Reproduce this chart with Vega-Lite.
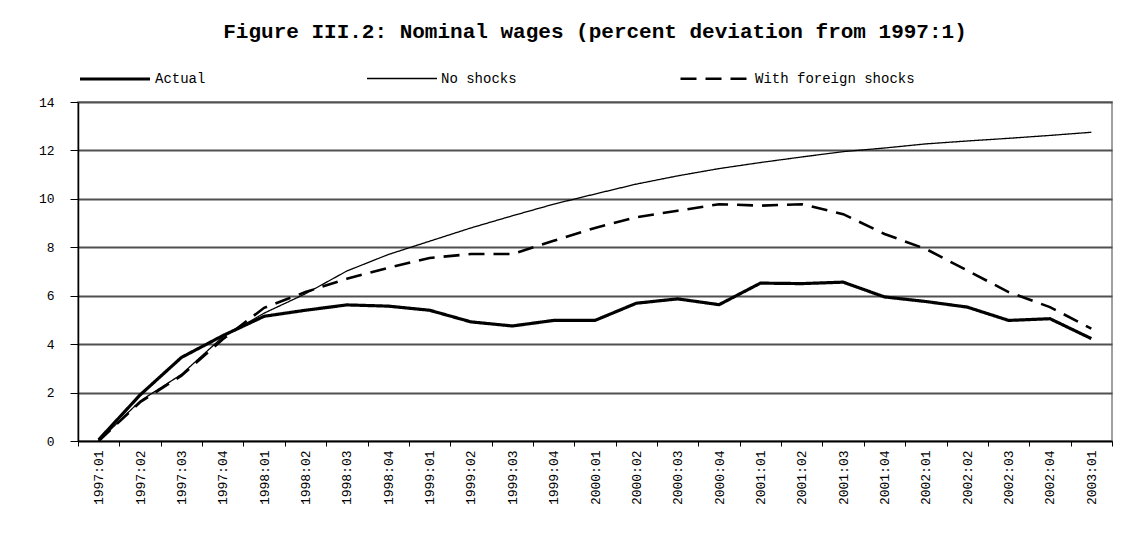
{
  "$schema": "https://vega.github.io/schema/vega-lite/v6.json",
  "width": 1034,
  "height": 339,
  "autosize": {"type": "none"},
  "padding": {"left": 78, "top": 102, "right": 21, "bottom": 101},
  "background": "white",
  "title": {
    "text": "Figure III.2: Nominal wages (percent deviation from 1997:1)",
    "font": "Liberation Mono",
    "fontSize": 21,
    "fontWeight": "bold",
    "color": "black",
    "anchor": "middle",
    "offset": 0
  },
  "data": {
    "values": [
      {"q": "1997:01", "series": "Actual", "v": 0.05},
      {"q": "1997:02", "series": "Actual", "v": 1.9},
      {"q": "1997:03", "series": "Actual", "v": 3.45},
      {"q": "1997:04", "series": "Actual", "v": 4.35},
      {"q": "1998:01", "series": "Actual", "v": 5.15},
      {"q": "1998:02", "series": "Actual", "v": 5.4},
      {"q": "1998:03", "series": "Actual", "v": 5.62},
      {"q": "1998:04", "series": "Actual", "v": 5.57},
      {"q": "1999:01", "series": "Actual", "v": 5.4},
      {"q": "1999:02", "series": "Actual", "v": 4.92},
      {"q": "1999:03", "series": "Actual", "v": 4.75},
      {"q": "1999:04", "series": "Actual", "v": 4.98},
      {"q": "2000:01", "series": "Actual", "v": 4.98},
      {"q": "2000:02", "series": "Actual", "v": 5.69},
      {"q": "2000:03", "series": "Actual", "v": 5.87},
      {"q": "2000:04", "series": "Actual", "v": 5.63},
      {"q": "2001:01", "series": "Actual", "v": 6.52},
      {"q": "2001:02", "series": "Actual", "v": 6.5},
      {"q": "2001:03", "series": "Actual", "v": 6.56},
      {"q": "2001:04", "series": "Actual", "v": 5.95},
      {"q": "2002:01", "series": "Actual", "v": 5.76},
      {"q": "2002:02", "series": "Actual", "v": 5.53},
      {"q": "2002:03", "series": "Actual", "v": 4.98},
      {"q": "2002:04", "series": "Actual", "v": 5.05},
      {"q": "2003:01", "series": "Actual", "v": 4.23},
      {"q": "1997:01", "series": "No shocks", "v": 0},
      {"q": "1997:02", "series": "No shocks", "v": 1.65},
      {"q": "1997:03", "series": "No shocks", "v": 2.75},
      {"q": "1997:04", "series": "No shocks", "v": 4.3},
      {"q": "1998:01", "series": "No shocks", "v": 5.28},
      {"q": "1998:02", "series": "No shocks", "v": 6.08},
      {"q": "1998:03", "series": "No shocks", "v": 7.02},
      {"q": "1998:04", "series": "No shocks", "v": 7.7},
      {"q": "1999:01", "series": "No shocks", "v": 8.25},
      {"q": "1999:02", "series": "No shocks", "v": 8.8},
      {"q": "1999:03", "series": "No shocks", "v": 9.3},
      {"q": "1999:04", "series": "No shocks", "v": 9.78},
      {"q": "2000:01", "series": "No shocks", "v": 10.2},
      {"q": "2000:02", "series": "No shocks", "v": 10.61},
      {"q": "2000:03", "series": "No shocks", "v": 10.95},
      {"q": "2000:04", "series": "No shocks", "v": 11.25},
      {"q": "2001:01", "series": "No shocks", "v": 11.5},
      {"q": "2001:02", "series": "No shocks", "v": 11.73},
      {"q": "2001:03", "series": "No shocks", "v": 11.95},
      {"q": "2001:04", "series": "No shocks", "v": 12.1},
      {"q": "2002:01", "series": "No shocks", "v": 12.27},
      {"q": "2002:02", "series": "No shocks", "v": 12.39},
      {"q": "2002:03", "series": "No shocks", "v": 12.5},
      {"q": "2002:04", "series": "No shocks", "v": 12.62},
      {"q": "2003:01", "series": "No shocks", "v": 12.75},
      {"q": "1997:01", "series": "With foreign shocks", "v": 0},
      {"q": "1997:02", "series": "With foreign shocks", "v": 1.6},
      {"q": "1997:03", "series": "With foreign shocks", "v": 2.7},
      {"q": "1997:04", "series": "With foreign shocks", "v": 4.2},
      {"q": "1998:01", "series": "With foreign shocks", "v": 5.5},
      {"q": "1998:02", "series": "With foreign shocks", "v": 6.15},
      {"q": "1998:03", "series": "With foreign shocks", "v": 6.7},
      {"q": "1998:04", "series": "With foreign shocks", "v": 7.15},
      {"q": "1999:01", "series": "With foreign shocks", "v": 7.56},
      {"q": "1999:02", "series": "With foreign shocks", "v": 7.72},
      {"q": "1999:03", "series": "With foreign shocks", "v": 7.72},
      {"q": "1999:04", "series": "With foreign shocks", "v": 8.27},
      {"q": "2000:01", "series": "With foreign shocks", "v": 8.8},
      {"q": "2000:02", "series": "With foreign shocks", "v": 9.24},
      {"q": "2000:03", "series": "With foreign shocks", "v": 9.51},
      {"q": "2000:04", "series": "With foreign shocks", "v": 9.78},
      {"q": "2001:01", "series": "With foreign shocks", "v": 9.72},
      {"q": "2001:02", "series": "With foreign shocks", "v": 9.78},
      {"q": "2001:03", "series": "With foreign shocks", "v": 9.37},
      {"q": "2001:04", "series": "With foreign shocks", "v": 8.55},
      {"q": "2002:01", "series": "With foreign shocks", "v": 7.93},
      {"q": "2002:02", "series": "With foreign shocks", "v": 7.04},
      {"q": "2002:03", "series": "With foreign shocks", "v": 6.15},
      {"q": "2002:04", "series": "With foreign shocks", "v": 5.53},
      {"q": "2003:01", "series": "With foreign shocks", "v": 4.64}
    ]
  },
  "mark": {"type": "line", "color": "black", "strokeJoin": "miter", "strokeCap": "butt"},
  "encoding": {
    "x": {
      "field": "q",
      "type": "ordinal",
      "sort": null,
      "scale": {"type": "band", "paddingInner": 0, "paddingOuter": 0},
      "axis": {
        "title": null,
        "labelAngle": -90,
        "tickBand": "extent",
        "tickSize": 5,
        "tickColor": "black",
        "domainColor": "black",
        "domainWidth": 1.5,
        "labelFont": "Liberation Mono",
        "labelFontSize": 13,
        "labelColor": "black",
        "labelPadding": 4,
        "grid": false
      }
    },
    "y": {
      "field": "v",
      "type": "quantitative",
      "scale": {"domain": [0, 14]},
      "axis": {
        "title": null,
        "values": [0, 2, 4, 6, 8, 10, 12, 14],
        "grid": true,
        "gridColor": "#505050",
        "gridWidth": 2,
        "tickSize": 8,
        "tickColor": "black",
        "domainColor": "black",
        "domainWidth": 1.5,
        "labelFont": "Liberation Mono",
        "labelFontSize": 13,
        "labelColor": "black",
        "labelPadding": 16
      }
    },
    "strokeWidth": {
      "field": "series",
      "type": "ordinal",
      "scale": {"type": "ordinal", "domain": ["Actual", "No shocks", "With foreign shocks"], "range": [3.2, 1.3, 2.6]},
      "legend": {"title": null}
    },
    "strokeDash": {
      "field": "series",
      "type": "ordinal",
      "scale": {"type": "ordinal", "domain": ["Actual", "No shocks", "With foreign shocks"], "range": [[1, 0], [1, 0], [16, 9]]},
      "legend": {"title": null}
    }
  },
  "config": {
    "view": {"stroke": "#a0a0a0", "strokeWidth": 2},
    "legend": {
      "orient": "top",
      "offset": 16,
      "direction": "horizontal",
      "symbolType": "stroke",
      "symbolSize": 4900,
      "symbolStrokeColor": "black",
      "columnPadding": 158,
      "labelFont": "Liberation Mono",
      "labelFontSize": 14,
      "labelColor": "black",
      "labelOffset": 3
    }
  }
}
